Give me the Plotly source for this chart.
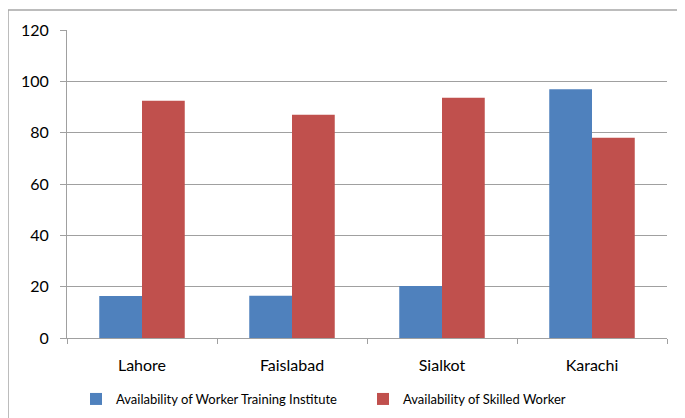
import plotly.graph_objects as go

cities = ["Lahore", "Faislabad", "Sialkot", "Karachi"]
training_institute = [16.4, 16.5, 20.3, 96.9]
skilled_worker = [92.4, 87.0, 93.6, 78.0]

fig = go.Figure()
fig.add_bar(x=cities, y=training_institute, name="Availability of Worker Training Institute",
            marker=dict(color="#4f81bd", line=dict(width=0)))
fig.add_bar(x=cities, y=skilled_worker, name="Availability of Skilled Worker",
            marker=dict(color="#c0504d", line=dict(width=0)))

frame = dict(color="#a6a6a6", width=1.5)

# the page adds 8px body margin, so the figure is sized to fit inside the window
fig.update_layout(
    width=677, height=410,
    margin=dict(l=59, r=18, t=22, b=80, autoexpand=False),
    paper_bgcolor="white", plot_bgcolor="white",
    font=dict(family="Lato", size=16, color="black"),
    barmode="group", bargap=0.43, bargroupgap=0,
    showlegend=True,
    legend=dict(orientation="h", xref="container", x=68 / 677, xanchor="left",
                yref="container", y=19 / 410, yanchor="middle",
                font=dict(size=13), entrywidth=242, itemwidth=30, traceorder="normal"),
    shapes=[
        # outer chart frame (left and top edges are the only ones in view)
        dict(type="line", xref="paper", yref="paper", x0=-59 / 600, x1=-59 / 600,
             y0=-95 / 308, y1=1 + 20 / 308, line=frame, layer="above"),
        dict(type="line", xref="paper", yref="paper", x0=-59 / 600, x1=1 + 30 / 600,
             y0=1 + 20 / 308, y1=1 + 20 / 308, line=frame, layer="above"),
    ],
)

fig.update_yaxes(range=[0, 120], dtick=20, showgrid=True, gridcolor="#a0a0a0", gridwidth=1,
                 showline=True, linecolor="#a0a0a0", ticks="outside", ticklen=6,
                 tickcolor="#a0a0a0", zeroline=False, ticklabelstandoff=8)
fig.update_xaxes(showline=True, linecolor="#a0a0a0", ticks="outside", ticklen=5,
                 tickcolor="#a0a0a0", tickson="boundaries", showgrid=False,
                 ticklabelstandoff=13)

fig.write_html("out.html")
